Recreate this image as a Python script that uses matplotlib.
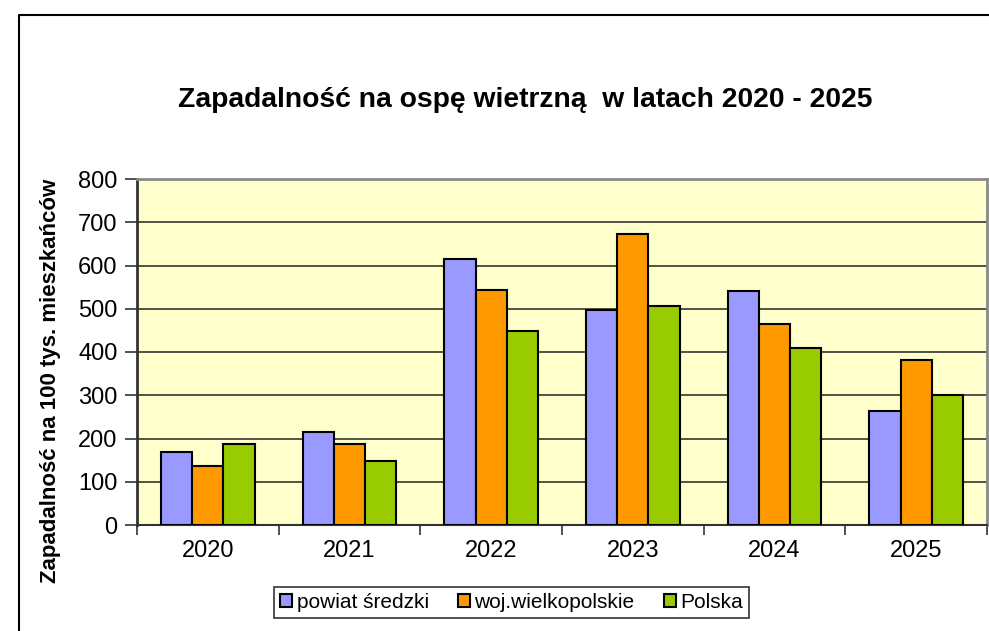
#!/usr/bin/env python3
"""Zapadalność na ospę wietrzną 2020-2025: grouped bar chart."""
import matplotlib
matplotlib.use("Agg")
import matplotlib.pyplot as plt
import numpy as np
from matplotlib.lines import Line2D

plt.rcParams["font.family"] = ["Liberation Sans", "DejaVu Sans"]

years = ["2020", "2021", "2022", "2023", "2024", "2025"]
series_names = ["powiat średzki", "woj.wielkopolskie", "Polska"]
powiat = [168, 215, 615, 497, 541, 264]
woj = [137, 187, 543, 673, 465, 381]
polska = [187, 148, 448, 506, 409, 300]
colors = ["#9999FF", "#FF9900", "#99CC00"]

W, H = 989, 631
fig = plt.figure(figsize=(W / 100, H / 100), dpi=100)
ax = fig.add_axes([137 / W, 1 - 525 / H, 850 / W, 346 / H])
ax.set_facecolor("#FFFFCC")

x = np.arange(len(years))
bw = 0.22
for i, (vals, name, col) in enumerate(zip([powiat, woj, polska], series_names, colors)):
    ax.bar(x + (i - 1) * bw, vals, width=bw, color=col, edgecolor="black",
           linewidth=1.5, label=name, zorder=3)

ax.set_xlim(-0.5, len(years) - 0.5)
ax.set_ylim(0, 800)
ax.set_yticks(range(0, 801, 100))
ax.grid(axis="y", color="#333333", linewidth=1.2, zorder=0)

# category labels between boundary ticks
ax.set_xticks(np.arange(len(years) + 1) - 0.5)
ax.set_xticklabels([])
ax.set_xticks(x, minor=True)
ax.set_xticklabels(years, minor=True, fontsize=17)
ax.tick_params(axis="x", which="minor", length=0, pad=11)
ax.tick_params(axis="x", which="major", length=7, width=1.2, color="#333333")
ax.tick_params(axis="y", labelsize=17, length=9, width=1.2, color="#333333", pad=5)

for side in ("top", "right"):
    ax.spines[side].set_color("#8a8a8a")
    ax.spines[side].set_linewidth(2)
ax.spines["left"].set_color("#333333")
ax.spines["left"].set_linewidth(2)
ax.spines["bottom"].set_color("#333333")
ax.spines["bottom"].set_linewidth(1.5)

ax.set_ylabel("Zapadalność na 100 tys. mieszkańców", fontsize=16, fontweight="bold",
              va="center")
ax.yaxis.set_label_coords((51 - 137) / 850, (525 - 381) / 346)

fig.text(525 / W, 1 - 100 / H, "Zapadalność na ospę wietrzną  w latach 2020 - 2025",
         ha="center", va="center", fontsize=20.3, fontweight="bold")

leg = fig.legend(loc="center", bbox_to_anchor=(511.5 / W, 1 - 602.5 / H), ncol=3,
                 fontsize=15, frameon=True, fancybox=False, edgecolor="black",
                 handlelength=0.6, handleheight=0.6, handletextpad=0.2,
                 columnspacing=1.4, borderpad=0.3)
leg.get_frame().set_linewidth(1.2)

# outer chart frame (left and top edges)
fig.add_artist(Line2D([18.5 / W, 18.5 / W, 1.0], [0.0, 1 - 14.5 / H, 1 - 14.5 / H],
                      transform=fig.transFigure, color="black", linewidth=1.5))

fig.savefig("out.png", dpi=100)
